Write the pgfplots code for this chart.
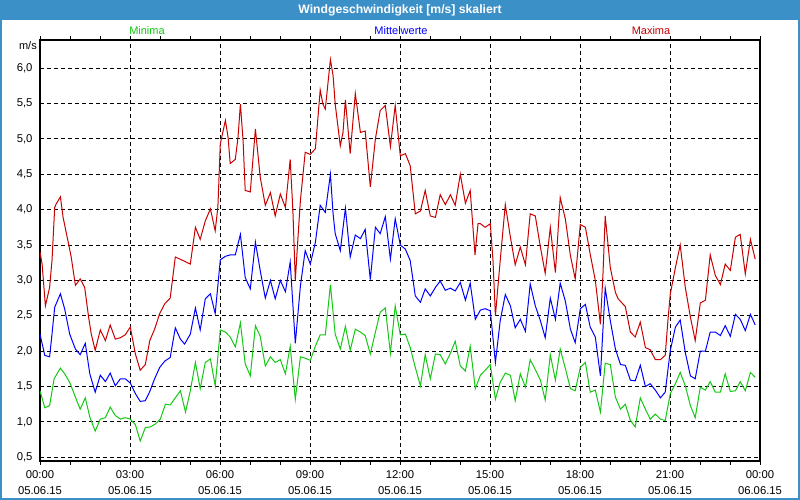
\documentclass[border=0pt]{standalone}
\usepackage{fontspec}
\setmainfont{Liberation Sans}
\usepackage{pgfplots}
\pgfplotsset{compat=1.18}
\definecolor{titleblue}{RGB}{60,144,200}
\definecolor{cred}{RGB}{200,0,0}
\definecolor{cblue}{RGB}{0,0,255}
\definecolor{cgreen}{RGB}{20,200,20}
\begin{document}
\begin{tikzpicture}[x=1pt,y=1pt]
\fill[titleblue] (0,0) rectangle (800,500);
\fill[white] (2,2) rectangle (798,480);
\path[use as bounding box] (0,0) rectangle (800,500);
\node[white,font=\fontsize{12.2}{14}\selectfont\bfseries] at (400,490) {Windgeschwindigkeit [m/s] skaliert};
\node[cgreen,font=\fontsize{11}{13}\selectfont] at (147,469) {Minima};
\node[cblue,font=\fontsize{11}{13}\selectfont] at (401,469) {Mittelwerte};
\node[cred,font=\fontsize{11}{13}\selectfont] at (651,469) {Maxima};
\node[anchor=east,font=\fontsize{11}{13}\selectfont,inner sep=0pt] at (37,454) {m/s};
\begin{axis}[
  at={(40pt,39pt)}, anchor=south west,
  scale only axis, width=720pt, height=421pt,
  xmin=0, xmax=24, ymin=0.448, ymax=6.396,
  axis line style={line width=1.5pt},
  xtick={0,3,...,24},
  minor xtick={1,2,4,5,7,8,10,11,13,14,16,17,19,20,22,23},
  xticklabels={00:00\\05.06.15,03:00\\05.06.15,06:00\\05.06.15,09:00\\05.06.15,12:00\\05.06.15,15:00\\05.06.15,18:00\\05.06.15,21:00\\05.06.15,00:00\\06.06.15},
  xticklabel style={align=center,font=\fontsize{11.3}{16}\selectfont,yshift=-2pt},
  ytick={0.5,1,...,6},
  yticklabel style={font=\fontsize{11.3}{13}\selectfont,/pgf/number format/.cd,fixed,fixed zerofill,precision=1,use comma,assume math mode=true},
  tick align=outside,
  major tick length=4pt, minor tick length=4pt,
  tick style={black,line width=0.8pt},
  ytick style={draw=none},
  xmajorgrids, ymajorgrids,
  grid style={black,line width=0.9pt,dash pattern=on 4pt off 3pt},
  every axis plot/.append style={line width=1pt,no markers,sharp plot},
  clip=true,
]
% Minima
\addplot[cgreen] coordinates {
(0,1.44)(0.16,1.20)(0.32,1.23)(0.47,1.61)(0.68,1.76)(0.84,1.67)(1.01,1.54)(1.18,1.35)(1.34,1.18)(1.51,1.34)(1.66,1.07)(1.84,0.87)(2.01,1.04)(2.18,1.06)(2.34,1.21)(2.51,1.09)(2.68,1.04)(2.84,1.06)(3.01,1.04)(3.18,0.96)(3.34,0.73)(3.51,0.92)(3.68,0.93)(3.84,0.97)(4.01,1.04)(4.18,1.25)(4.34,1.24)(4.51,1.34)(4.68,1.44)(4.85,1.14)(5.01,1.44)(5.18,1.84)(5.34,1.47)(5.51,1.84)(5.68,1.89)(5.84,1.51)(6.01,2.30)(6.18,2.27)(6.34,2.20)(6.51,2.06)(6.68,2.40)(6.84,1.82)(7.01,1.65)(7.18,2.36)(7.34,2.21)(7.51,1.79)(7.68,1.92)(7.84,1.84)(8.01,1.88)(8.18,1.68)(8.34,2.07)(8.51,1.32)(8.68,1.92)(8.84,1.90)(9.01,1.87)(9.18,2.07)(9.34,2.23)(9.51,2.23)(9.68,2.94)(9.84,2.24)(10.01,2.03)(10.18,2.35)(10.34,2.01)(10.51,2.31)(10.68,2.27)(10.84,2.22)(11.01,1.96)(11.18,2.27)(11.34,2.55)(11.51,2.61)(11.68,1.97)(11.84,2.64)(12.01,2.23)(12.18,2.24)(12.34,2.05)(12.51,1.77)(12.68,1.51)(12.84,1.95)(13.01,1.61)(13.18,1.96)(13.34,1.95)(13.51,1.82)(13.68,1.97)(13.84,2.14)(14.01,1.79)(14.18,1.72)(14.34,2.07)(14.51,1.47)(14.68,1.66)(14.84,1.73)(15.01,1.81)(15.18,1.32)(15.34,1.56)(15.51,1.69)(15.68,1.66)(15.84,1.30)(16.01,1.68)(16.18,1.49)(16.34,1.88)(16.51,1.74)(16.68,1.59)(16.84,1.31)(17.01,1.95)(17.18,1.59)(17.34,2.03)(17.51,1.76)(17.68,1.47)(17.84,1.44)(18.01,1.77)(18.18,1.84)(18.34,1.42)(18.51,1.45)(18.68,1.14)(18.84,1.83)(19.01,1.81)(19.18,1.35)(19.35,1.18)(19.51,1.25)(19.68,1.02)(19.84,0.93)(20.01,1.34)(20.18,1.18)(20.34,1.04)(20.51,1.11)(20.68,1.04)(20.84,1.02)(21.01,1.40)(21.18,1.54)(21.34,1.70)(21.51,1.51)(21.68,1.23)(21.84,1.06)(22.01,1.49)(22.18,1.45)(22.34,1.57)(22.51,1.42)(22.68,1.42)(22.84,1.68)(23.01,1.43)(23.18,1.44)(23.34,1.57)(23.51,1.44)(23.68,1.70)(23.84,1.63)
};
% Mittelwerte
\addplot[cblue] coordinates {
(0,2.24)(0.16,1.94)(0.32,1.92)(0.40,2.24)(0.49,2.62)(0.68,2.81)(0.82,2.60)(0.99,2.24)(1.18,2.03)(1.34,1.95)(1.51,2.11)(1.66,1.68)(1.84,1.42)(2.01,1.66)(2.18,1.57)(2.34,1.69)(2.51,1.51)(2.68,1.61)(2.84,1.61)(3.01,1.55)(3.18,1.40)(3.34,1.29)(3.51,1.30)(3.66,1.43)(3.82,1.61)(3.99,1.77)(4.16,1.86)(4.34,1.91)(4.51,2.33)(4.68,2.17)(4.82,2.10)(5.01,2.24)(5.18,2.61)(5.34,2.30)(5.51,2.74)(5.68,2.81)(5.84,2.53)(6.01,3.29)(6.18,3.34)(6.34,3.36)(6.51,3.36)(6.68,3.65)(6.84,3.04)(7.01,2.88)(7.18,3.54)(7.34,3.14)(7.51,2.75)(7.68,3.00)(7.84,2.74)(8.01,3.00)(8.18,2.84)(8.34,3.26)(8.51,2.11)(8.68,2.92)(8.84,3.42)(9.01,3.23)(9.18,3.54)(9.34,4.06)(9.51,3.96)(9.68,4.50)(9.77,3.94)(9.84,3.66)(10.01,3.42)(10.18,4.02)(10.34,3.33)(10.51,3.64)(10.68,3.59)(10.84,3.72)(11.01,3.01)(11.18,3.75)(11.34,3.66)(11.51,3.90)(11.68,3.30)(11.84,3.87)(12.01,3.50)(12.18,3.44)(12.34,3.28)(12.51,2.78)(12.68,2.69)(12.84,2.88)(13.01,2.78)(13.18,2.90)(13.34,2.99)(13.51,2.86)(13.68,2.89)(13.84,2.85)(14.01,2.97)(14.18,2.72)(14.34,2.96)(14.51,2.45)(14.68,2.58)(14.84,2.60)(15.01,2.57)(15.18,1.84)(15.34,2.43)(15.51,2.80)(15.68,2.64)(15.84,2.33)(16.01,2.45)(16.18,2.28)(16.34,2.95)(16.51,2.64)(16.68,2.43)(16.84,2.19)(17.01,2.75)(17.18,2.45)(17.34,2.96)(17.51,2.71)(17.68,2.31)(17.84,2.12)(18.01,2.60)(18.18,2.66)(18.34,2.34)(18.51,2.20)(18.68,1.65)(18.84,2.89)(19.01,2.43)(19.18,2.03)(19.35,1.81)(19.51,1.80)(19.68,1.59)(19.84,1.58)(20.01,1.80)(20.18,1.50)(20.34,1.54)(20.51,1.45)(20.68,1.34)(20.84,1.42)(21.01,2.01)(21.18,2.34)(21.34,2.44)(21.51,1.98)(21.68,1.65)(21.84,1.61)(22.01,2.00)(22.18,2.00)(22.34,2.27)(22.51,2.27)(22.68,2.22)(22.84,2.36)(23.01,2.21)(23.18,2.52)(23.34,2.45)(23.51,2.29)(23.68,2.52)(23.84,2.37)
};
% Maxima
\addplot[cred] coordinates {
(0,3.40)(0.07,3.23)(0.18,2.64)(0.32,2.90)(0.40,3.28)(0.49,4.03)(0.54,4.08)(0.68,4.18)(0.77,3.89)(0.93,3.56)(1.04,3.33)(1.18,2.93)(1.34,3.02)(1.49,2.90)(1.62,2.48)(1.71,2.24)(1.84,2.01)(2.01,2.30)(2.18,2.15)(2.34,2.37)(2.51,2.17)(2.68,2.19)(2.84,2.23)(3.01,2.34)(3.18,1.96)(3.34,1.73)(3.51,1.81)(3.66,2.15)(3.82,2.31)(3.99,2.53)(4.16,2.67)(4.34,2.75)(4.51,3.33)(4.77,3.28)(5.01,3.23)(5.18,3.75)(5.34,3.58)(5.51,3.84)(5.68,4.01)(5.84,3.70)(5.93,4.04)(6.01,4.93)(6.18,5.26)(6.27,5.02)(6.34,4.65)(6.51,4.71)(6.60,5.02)(6.68,5.49)(6.77,4.97)(6.84,4.27)(7.01,4.25)(7.18,5.14)(7.34,4.46)(7.51,4.06)(7.68,4.24)(7.84,3.91)(8.01,4.22)(8.18,4.03)(8.34,4.71)(8.43,3.98)(8.51,3.00)(8.60,3.61)(8.68,4.13)(8.84,4.81)(9.01,4.78)(9.18,4.86)(9.34,5.69)(9.43,5.49)(9.51,5.42)(9.68,6.12)(9.77,5.89)(9.84,5.49)(10.01,4.90)(10.10,5.09)(10.18,5.55)(10.34,4.79)(10.51,5.64)(10.68,5.09)(10.84,5.11)(11.01,4.32)(11.18,5.00)(11.34,5.40)(11.51,5.47)(11.68,4.89)(11.84,5.47)(12.01,4.76)(12.18,4.79)(12.34,4.62)(12.51,3.94)(12.68,3.98)(12.84,4.27)(13.01,3.91)(13.18,3.89)(13.34,4.21)(13.51,4.07)(13.68,4.21)(13.84,4.06)(14.01,4.50)(14.18,4.09)(14.34,4.27)(14.50,3.36)(14.60,3.80)(14.68,3.80)(14.84,3.75)(15.01,3.80)(15.10,3.28)(15.18,2.50)(15.34,3.28)(15.51,4.07)(15.68,3.61)(15.84,3.22)(16.01,3.47)(16.18,3.22)(16.34,3.94)(16.51,3.91)(16.68,3.47)(16.84,3.10)(17.01,3.75)(17.18,3.11)(17.34,4.17)(17.51,3.87)(17.68,3.35)(17.84,3.02)(18.01,3.79)(18.18,3.75)(18.34,3.37)(18.51,3.00)(18.68,2.38)(18.77,3.13)(18.84,3.91)(19.01,3.18)(19.18,2.83)(19.27,2.74)(19.51,2.63)(19.68,2.27)(19.84,2.20)(20.01,2.41)(20.18,2.05)(20.34,2.02)(20.51,1.88)(20.68,1.88)(20.84,1.94)(20.93,2.43)(21.01,2.81)(21.18,3.18)(21.34,3.50)(21.51,2.90)(21.68,2.48)(21.84,2.15)(22.01,2.68)(22.18,2.72)(22.34,3.36)(22.51,3.07)(22.68,2.94)(22.84,3.23)(23.01,3.14)(23.18,3.61)(23.34,3.65)(23.51,3.09)(23.68,3.58)(23.84,3.30)
};
\end{axis}
\end{tikzpicture}
\end{document}
